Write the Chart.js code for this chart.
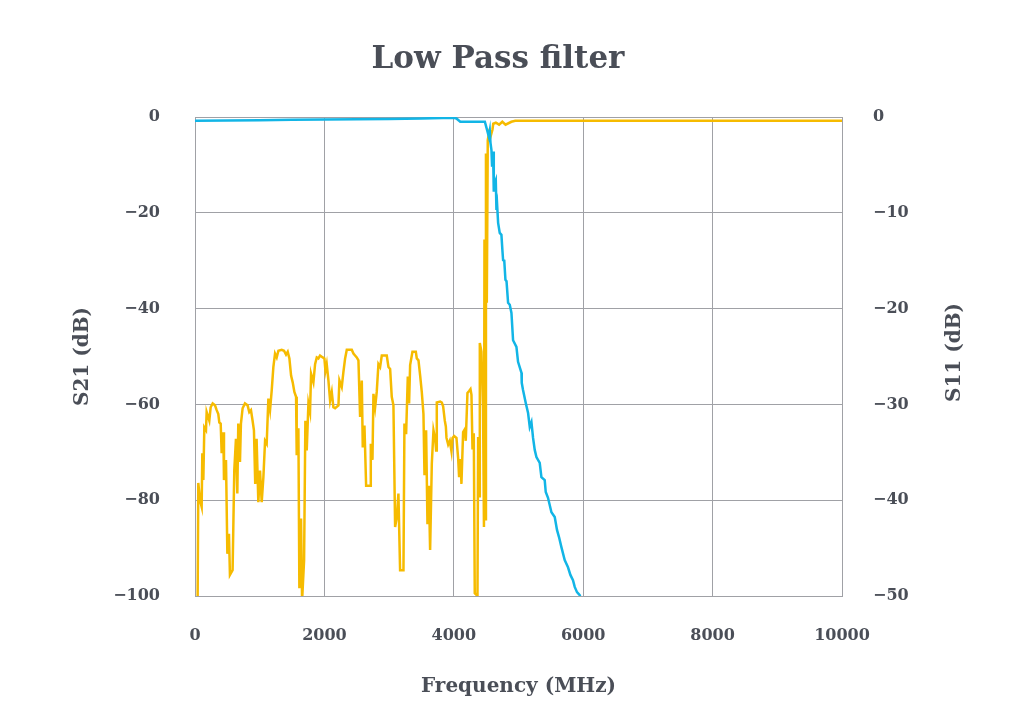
<!DOCTYPE html>
<html lang="en">
<head>
<meta charset="UTF-8">
<title>Low Pass filter</title>
<script src="https://cdn.jsdelivr.net/npm/chart.js"></script>
<style>
    html, body { margin: 0; padding: 0; background: #fff; }
    #wrap { width: 1024px; height: 725px; }
</style>
</head>
<body>
<div id="wrap"><canvas id="myChart"></canvas></div>
<script>
    // texts
    var chartTitle = 'Low Pass filter';
    var xTitle = 'Frequency (MHz)';
    var leftTitle = 'S21 (dB)';
    var rightTitle = 'S11 (dB)';

    // tick labels
    var xTicks = [0, 2000, 4000, 6000, 8000, 10000];
    var leftTicks = [0, -20, -40, -60, -80, -100];
    var rightTicks = [0, -10, -20, -30, -40, -50];

    // S21 (left axis)
    var s21Freq = [0, 500, 1000, 1500, 2000, 2500, 3000, 3500, 4000, 4040, 4100, 4300, 4480, 4514, 4541, 4556, 4567, 4582, 4592, 4607,
        4618, 4633, 4649, 4659, 4670, 4685, 4710, 4736, 4751, 4762, 4780, 4798, 4815, 4839, 4865, 4891, 4916, 4968, 4993, 5046,
        5050, 5070, 5112, 5148, 5174, 5200, 5225, 5251, 5277, 5328, 5354, 5405, 5421, 5456, 5509, 5560, 5595, 5626, 5663, 5714,
        5765, 5802, 5842, 5869, 5904, 5946, 5975];
    var s21Db = [-0.8, -0.75, -0.7, -0.6, -0.5, -0.45, -0.4, -0.3, -0.15, -0.3, -1.0, -1.0, -1.0, -2.7, -4.1, -2.9, -5.4, -6.9, -10.4, -7.2,
        -15.6, -13.8, -13.2, -19.4, -18.4, -22.1, -24.2, -24.6, -27.8, -29.9, -30, -34, -34.3, -38.8, -39.2, -40.9, -46.6, -48, -51.1, -53.4,
        -55.5, -57, -59.7, -61.8, -64.7, -63.7, -67, -69.5, -71, -72.2, -75.2, -75.8, -78.3, -79.5, -82.5, -83.5, -86.2, -87.7, -89.8, -92.5,
        -94, -95.6, -96.7, -98.1, -99.2, -99.8, -101];

    // S11 (right axis)
    var s11Freq = [40, 51, 77, 103, 113, 129, 144, 170, 180, 221, 242, 273, 309, 335, 360, 376, 397, 412, 438, 448,
        479, 500, 525, 540, 581, 607, 633, 654, 669, 695, 710, 736, 772, 813, 839, 865, 890, 911, 931, 952,
        979, 1005, 1031, 1057, 1083, 1108, 1134, 1160, 1186, 1211, 1237, 1263, 1289, 1340, 1376, 1407, 1433, 1459, 1485, 1510,
        1536, 1562, 1572, 1598, 1613, 1639, 1655, 1686, 1706, 1727, 1753, 1778, 1794, 1830, 1856, 1882, 1907, 1933, 1974, 2000,
        2016, 2036, 2062, 2088, 2114, 2139, 2165, 2217, 2232, 2268, 2294, 2320, 2346, 2423, 2449, 2474, 2500, 2526, 2552, 2578,
        2593, 2619, 2645, 2706, 2717, 2743, 2758, 2784, 2809, 2835, 2861, 2887, 2964, 2990, 3016, 3041, 3067, 3093, 3119, 3144,
        3170, 3222, 3237, 3263, 3289, 3309, 3325, 3361, 3413, 3428, 3454, 3480, 3505, 3531, 3547, 3572, 3593, 3614, 3634, 3660,
        3686, 3712, 3727, 3737, 3790, 3815, 3835, 3861, 3877, 3887, 3913, 3938, 3964, 3980, 4005, 4041, 4067, 4082, 4103, 4118,
        4144, 4170, 4185, 4211, 4237, 4258, 4273, 4289, 4309, 4324, 4366, 4376, 4392, 4402, 4427, 4452, 4466, 4474, 4481, 4488,
        4497, 4510, 4525, 4545, 4570, 4598, 4610, 4650, 4700, 4750, 4800, 4890, 4950, 10000];
    var s11Db = [-51, -38.2, -40, -40.7, -35.1, -37.9, -32.4, -32.7, -30.8, -31.7, -30.3, -29.9, -30.1, -30.6, -31, -31.9, -32, -35.1, -32.9, -37.9,
        -35.8, -45.6, -43.5, -47.8, -47.3, -36.9, -33.6, -39.3, -32, -36, -32, -30.4, -29.9, -30.1, -30.8, -30.6, -31.7, -32.7, -38.3, -33.6,
        -40.2, -36.9, -40.2, -37.6, -33.8, -34.1, -29.4, -30.6, -28.5, -26.1, -24.7, -25.1, -24.4, -24.3, -24.4, -24.8, -24.5, -25.2, -27, -27.7,
        -28.7, -29.2, -35.3, -32.5, -49.2, -41.9, -50.5, -46.3, -31.7, -34.8, -29.9, -30.8, -26.8, -27.7, -25.8, -25.1, -25.2, -24.9, -25.1, -25.2,
        -26.5, -25.8, -27.5, -29.6, -28.7, -30.3, -30.4, -30.1, -27.5, -28.2, -26.6, -25.2, -24.3, -24.3, -24.7, -24.9, -25.1, -25.4, -31.3, -27.5,
        -34.5, -32.2, -38.5, -38.5, -34.1, -35.8, -28.9, -30.3, -28.7, -25.8, -26.1, -24.9, -24.9, -26.1, -26.3, -29.2, -30.1, -42.8, -41.8, -39.3,
        -47.3, -47.3, -32, -33.1, -27.1, -29.9, -25.9, -24.5, -24.5, -25.2, -25.4, -27, -28.7, -31, -37.4, -32.7, -42.5, -38.5, -45.2, -36.2,
        -32.7, -33.6, -34.8, -29.8, -29.7, -29.8, -30.2, -31.7, -32.3, -33.5, -34.2, -33.8, -34.9, -33.5, -33.3, -33.5, -35.6, -37.6, -35.7, -38.3,
        -32.9, -32.6, -33.8, -28.8, -28.6, -28.4, -29, -34.7, -33, -49.7, -50, -33.4, -39.6, -23.6, -24.5, -30.4, -42.8, -12.8, -20.5, -42,
        -3.8, -19.4, -2.4, -1.6, -2, -1.3, -0.7, -0.6, -0.8, -0.5, -0.8, -0.5, -0.4, -0.4];

    var textColor = '#4a4e57';
    var gridColor = '#a0a1a6';
    var fontFamily = "'DejaVu Serif', serif";

    function toPoints(xs, ys) {
        return xs.map(function (x, i) { return { x: x, y: ys[i] }; });
    }
    function minusSign(v) {
        return String(v).replace('-', '\u2212');
    }
    function fixedTicks(list) {
        return function (axis) {
            axis.ticks = list.map(function (v) { return { value: v }; });
        };
    }

    // title and right axis title (reads bottom to top like the left one)
    var extraText = {
        id: 'extraText',
        afterDraw: function (chart) {
            var ctx = chart.ctx;
            var area = chart.chartArea;
            ctx.save();
            ctx.fillStyle = textColor;
            ctx.textAlign = 'center';
            ctx.textBaseline = 'middle';
            ctx.font = 'bold 31px ' + fontFamily;
            ctx.fillText(chartTitle, 498, 60);
            ctx.font = 'bold 20px ' + fontFamily;
            ctx.translate(955, (area.top + area.bottom) / 2 - 4);
            ctx.rotate(-Math.PI / 2);
            ctx.fillText(rightTitle, 0, 0);
            ctx.restore();
        }
    };

    var ctx = document.getElementById('myChart').getContext('2d');
    var myChart = new Chart(ctx, {
        type: 'line',
        data: {
            datasets: [{
                label: 'S21',
                data: toPoints(s21Freq, s21Db),
                yAxisID: 'y',
                borderColor: '#12b5e6',
                borderWidth: 2.5,
                pointRadius: 0,
                tension: 0,
                fill: false
            },
            {
                label: 'S11',
                data: toPoints(s11Freq, s11Db),
                yAxisID: 'y2',
                borderColor: '#f6bb00',
                borderWidth: 2.5,
                pointRadius: 0,
                tension: 0,
                fill: false
            }]
        },
        options: {
            responsive: true,
            maintainAspectRatio: false,
            animation: false,
            layout: { padding: { top: 117, left: 0, right: 0, bottom: 0 } },
            plugins: {
                legend: { display: false },
                tooltip: { enabled: false }
            },
            scales: {
                x: {
                    type: 'linear',
                    min: 0,
                    max: 10000,
                    afterBuildTicks: fixedTicks(xTicks),
                    afterFit: function (s) { s.height = 129; },
                    grid: { color: gridColor, drawTicks: false },
                    border: { color: gridColor },
                    ticks: {
                        padding: 30,
                        color: textColor,
                        font: { family: fontFamily, size: 16, weight: 'bold' },
                        callback: function (v) { return String(v); }
                    },
                    title: {
                        display: true,
                        text: xTitle,
                        color: textColor,
                        font: { family: fontFamily, size: 20, weight: 'bold' },
                        padding: { top: 0, bottom: 26 }
                    }
                },
                y: {
                    position: 'left',
                    min: -100,
                    max: 0,
                    afterBuildTicks: fixedTicks(leftTicks),
                    afterFit: function (s) { s.width = 195; },
                    grid: { color: gridColor, drawTicks: false },
                    border: { color: gridColor },
                    ticks: {
                        padding: 35,
                        color: textColor,
                        font: { family: fontFamily, size: 16, weight: 'bold' },
                        callback: minusSign
                    },
                    title: {
                        display: true,
                        text: leftTitle,
                        color: textColor,
                        font: { family: fontFamily, size: 20, weight: 'bold' },
                        padding: { top: 71, bottom: 0 }
                    }
                },
                y2: {
                    position: 'right',
                    min: -50,
                    max: 0,
                    afterBuildTicks: fixedTicks(rightTicks),
                    afterFit: function (s) { s.width = 182; },
                    grid: { drawOnChartArea: false, drawTicks: false },
                    border: { color: gridColor },
                    ticks: {
                        padding: 31,
                        color: textColor,
                        font: { family: fontFamily, size: 16, weight: 'bold' },
                        callback: minusSign
                    }
                }
            }
        },
        plugins: [extraText]
    });
</script>
</body>
</html>
